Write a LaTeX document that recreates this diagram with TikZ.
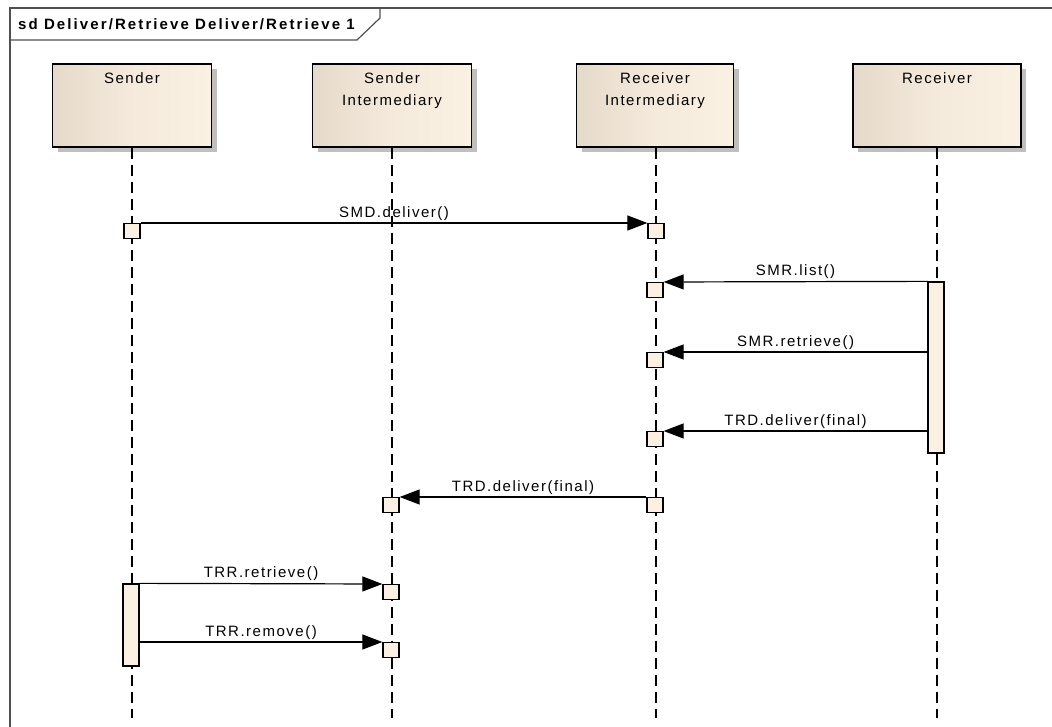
\documentclass[tikz,border=0pt]{standalone}
\usepackage{fontspec}
\setmainfont{Liberation Sans}
\newfontfamily\lblfont[LetterSpace=10]{Liberation Sans}
\newfontfamily\titlefont[LetterSpace=14]{Liberation Sans Bold}
\usetikzlibrary{arrows.meta,shadows}
\definecolor{boxdark}{HTML}{E5DACA}
\definecolor{boxlight}{HTML}{FBF1E3}
\definecolor{actfill}{HTML}{FBF0E1}
\definecolor{framecol}{HTML}{505050}
\tikzset{
  headbox/.style={draw=black, line width=1.4pt, minimum height=83pt, inner sep=0pt,
    left color=boxdark, right color=boxlight, middle color=boxlight!70!boxdark,
    drop shadow={shadow xshift=5pt, shadow yshift=-5pt, fill=black!25, opacity=1}},
  headtext/.style={font=\lblfont\fontsize{15}{22}\selectfont, align=center, anchor=north, inner sep=0pt},
  lifeline/.style={line width=1.2pt, dash pattern=on 11pt off 6pt},
  actbox/.style={draw=black, line width=1.3pt, fill=actfill, minimum width=16pt, minimum height=15pt, inner sep=0pt, anchor=north},
  actbar/.style={draw=black, line width=1.3pt, fill=actfill, minimum width=16pt, inner sep=0pt},
  msg/.style={line width=1.2pt, -{Triangle[length=20pt,width=15pt]}},
  msglbl/.style={font=\lblfont\fontsize{15}{18}\selectfont, inner sep=2pt, above},
}
\begin{document}
\begin{tikzpicture}[x=1pt,y=-1pt]
\useasboundingbox (0,0) rectangle (1052,727);
% frame
\draw[framecol, line width=1.5pt] (10,727) -- (10,8) -- (1052,8);
\draw[framecol, line width=1.2pt] (10,40) -- (357,40) -- (380,18) -- (380,8);
\node[font=\titlefont\fontsize{15}{18}\selectfont, anchor=base west, inner sep=0pt] (title) at (18,29.5) {sd Deliver/Retrieve Deliver/Retrieve 1};
% heads
\node[headbox, minimum width=159pt] (s) at (132,105.5) {};
\node[headbox, minimum width=159pt] (si) at (392,105.5) {};
\node[headbox, minimum width=157pt] (ri) at (655,105.5) {};
\node[headbox, minimum width=168pt] (r) at (937,105.5) {};
\node[headtext] (st) at ([yshift=-9pt]s.north) {Sender};
\node[headtext] (sit) at ([yshift=-9pt]si.north) {Sender\\Intermediary};
\node[headtext] (rit) at ([yshift=-9pt]ri.north) {Receiver\\Intermediary};
\node[headtext] (rt) at ([yshift=-9pt]r.north) {Receiver};
% lifeline ends
\coordinate (se) at (132,718);
\coordinate (sie) at (392,718);
\coordinate (rie) at (656,718);
\coordinate (re) at (937,718);
\draw[lifeline] (s.south) -- (se);
\draw[lifeline] (si.south) -- (sie);
\draw[lifeline] (ri.south -| rie) -- (rie);
\draw[lifeline] (r.south) -- (re);
% activation bars
\node[actbar, minimum height=171pt] (ract) at (936,367.5) {};
\node[actbar, minimum height=82pt] (sact) at (131,625) {};
% small boxes
\node[actbox] (a1) at (132,223) {};
\node[actbox] (b1) at (656,223) {};
\node[actbox] (b2) at (655,282) {};
\node[actbox] (b3) at (655,352) {};
\node[actbox] (b4) at (655,431) {};
\node[actbox] (b5) at (655,497) {};
\node[actbox] (c5) at (391,497) {};
\node[actbox] (c6) at (391,584) {};
\node[actbox] (c7) at (391,642) {};
% messages
\draw[msg] (a1.north east) -- node[msglbl] (m1) {SMD.deliver()} (b1.north west);
\draw[msg] (ract.north west) -- node[msglbl] (m2) {SMR.list()} (b2.north east);
\draw[msg] (b3.north east -| ract.west) -- node[msglbl] (m3) {SMR.retrieve()} (b3.north east);
\draw[msg] (b4.north east -| ract.west) -- node[msglbl] (m4) {TRD.deliver(final)} (b4.north east);
\draw[msg] (b5.north west) -- node[msglbl] (m5) {TRD.deliver(final)} (c5.north east);
\draw[msg] (sact.north east) -- node[msglbl] (m6) {TRR.retrieve()} (c6.north west);
\draw[msg] (c7.north west -| sact.east) -- node[msglbl] (m7) {TRR.remove()} (c7.north west);
\end{tikzpicture}
\end{document}
